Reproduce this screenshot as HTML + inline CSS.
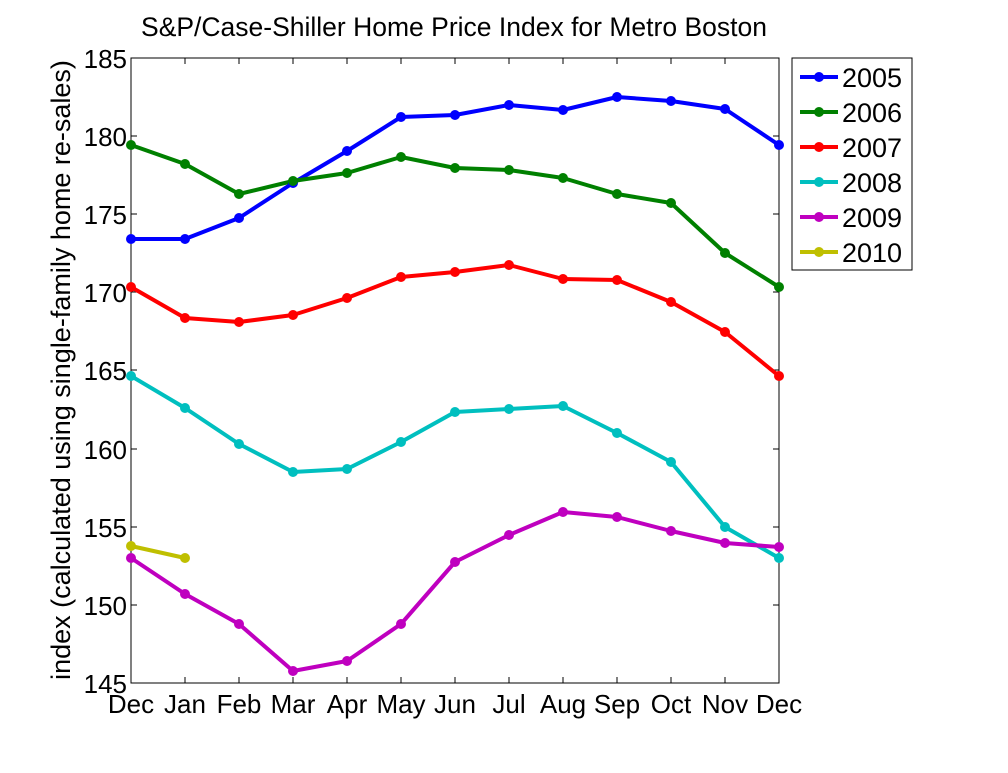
<!DOCTYPE html>
<html><head><meta charset="utf-8"><style>
html,body{margin:0;padding:0;background:#fff;}
svg text{font-family:"Liberation Sans",Arial,sans-serif;fill:#000;}
</style></head><body>
<svg width="1008" height="768" xmlns="http://www.w3.org/2000/svg">
<rect width="1008" height="768" fill="#fff"/>
<text x="454" y="36" font-size="26.5" text-anchor="middle">S&amp;P/Case-Shiller Home Price Index for Metro Boston</text>
<rect x="131" y="58" width="648" height="625" fill="#fff" stroke="#000" stroke-width="1"/>
<g stroke="#000" stroke-width="1">
<line x1="131" y1="136" x2="137" y2="136"/><line x1="779" y1="136" x2="773" y2="136"/>
<line x1="131" y1="214" x2="137" y2="214"/><line x1="779" y1="214" x2="773" y2="214"/>
<line x1="131" y1="292" x2="137" y2="292"/><line x1="779" y1="292" x2="773" y2="292"/>
<line x1="131" y1="370" x2="137" y2="370"/><line x1="779" y1="370" x2="773" y2="370"/>
<line x1="131" y1="449" x2="137" y2="449"/><line x1="779" y1="449" x2="773" y2="449"/>
<line x1="131" y1="527" x2="137" y2="527"/><line x1="779" y1="527" x2="773" y2="527"/>
<line x1="131" y1="605" x2="137" y2="605"/><line x1="779" y1="605" x2="773" y2="605"/>
<line x1="185" y1="683" x2="185" y2="677"/><line x1="239" y1="683" x2="239" y2="677"/><line x1="293" y1="683" x2="293" y2="677"/><line x1="347" y1="683" x2="347" y2="677"/><line x1="401" y1="683" x2="401" y2="677"/><line x1="455" y1="683" x2="455" y2="677"/><line x1="509" y1="683" x2="509" y2="677"/><line x1="563" y1="683" x2="563" y2="677"/><line x1="617" y1="683" x2="617" y2="677"/><line x1="671" y1="683" x2="671" y2="677"/><line x1="725" y1="683" x2="725" y2="677"/>
<line x1="185" y1="58" x2="185" y2="64"/><line x1="239" y1="58" x2="239" y2="64"/><line x1="293" y1="58" x2="293" y2="64"/><line x1="347" y1="58" x2="347" y2="64"/><line x1="401" y1="58" x2="401" y2="64"/><line x1="455" y1="58" x2="455" y2="64"/><line x1="509" y1="58" x2="509" y2="64"/><line x1="563" y1="58" x2="563" y2="64"/><line x1="617" y1="58" x2="617" y2="64"/><line x1="671" y1="58" x2="671" y2="64"/><line x1="725" y1="58" x2="725" y2="64"/>
</g>
<g font-size="26" text-anchor="end">
<text x="127" y="68">185</text><text x="127" y="146">180</text><text x="127" y="224">175</text><text x="127" y="302">170</text><text x="127" y="380">165</text><text x="127" y="459">160</text><text x="127" y="537">155</text><text x="127" y="615">150</text><text x="127" y="693">145</text>
</g>
<g font-size="26" text-anchor="middle">
<text x="131" y="713">Dec</text><text x="185" y="713">Jan</text><text x="239" y="713">Feb</text><text x="293" y="713">Mar</text><text x="347" y="713">Apr</text><text x="401" y="713">May</text><text x="455" y="713">Jun</text><text x="509" y="713">Jul</text><text x="563" y="713">Aug</text><text x="617" y="713">Sep</text><text x="671" y="713">Oct</text><text x="725" y="713">Nov</text><text x="779" y="713">Dec</text>
</g>
<text transform="translate(70,370) rotate(-90)" font-size="27" text-anchor="middle">index (calculated using single-family home re-sales)</text>
<g fill="none" stroke-width="4" stroke-linejoin="round">
<polyline stroke="#0000ff" points="131,239 185,239 239,218 293,183 347,151 401,117 455,115 509,105 563,110 617,97 671,101 725,109 779,145"/>
<polyline stroke="#008000" points="131,145 185,164 239,194 293,181 347,173 401,157 455,168 509,170 563,178 617,194 671,203 725,253 779,287"/>
<polyline stroke="#ff0000" points="131,287 185,318 239,322 293,315 347,298 401,277 455,272 509,265 563,279 617,280 671,302 725,332 779,376"/>
<polyline stroke="#00bfbf" points="131,376 185,408 239,444 293,472 347,469 401,442 455,412 509,409 563,406 617,433 671,462 725,527 779,558"/>
<polyline stroke="#bf00bf" points="131,558 185,594 239,624 293,671 347,661 401,624 455,562 509,535 563,512 617,517 671,531 725,543 779,547"/>
<polyline stroke="#bfbf00" points="131,546 185,558"/>
</g>
<g>
<g fill="#0000ff"><circle cx="131" cy="239" r="5"/><circle cx="185" cy="239" r="5"/><circle cx="239" cy="218" r="5"/><circle cx="293" cy="183" r="5"/><circle cx="347" cy="151" r="5"/><circle cx="401" cy="117" r="5"/><circle cx="455" cy="115" r="5"/><circle cx="509" cy="105" r="5"/><circle cx="563" cy="110" r="5"/><circle cx="617" cy="97" r="5"/><circle cx="671" cy="101" r="5"/><circle cx="725" cy="109" r="5"/><circle cx="779" cy="145" r="5"/></g>
<g fill="#008000"><circle cx="131" cy="145" r="5"/><circle cx="185" cy="164" r="5"/><circle cx="239" cy="194" r="5"/><circle cx="293" cy="181" r="5"/><circle cx="347" cy="173" r="5"/><circle cx="401" cy="157" r="5"/><circle cx="455" cy="168" r="5"/><circle cx="509" cy="170" r="5"/><circle cx="563" cy="178" r="5"/><circle cx="617" cy="194" r="5"/><circle cx="671" cy="203" r="5"/><circle cx="725" cy="253" r="5"/><circle cx="779" cy="287" r="5"/></g>
<g fill="#ff0000"><circle cx="131" cy="287" r="5"/><circle cx="185" cy="318" r="5"/><circle cx="239" cy="322" r="5"/><circle cx="293" cy="315" r="5"/><circle cx="347" cy="298" r="5"/><circle cx="401" cy="277" r="5"/><circle cx="455" cy="272" r="5"/><circle cx="509" cy="265" r="5"/><circle cx="563" cy="279" r="5"/><circle cx="617" cy="280" r="5"/><circle cx="671" cy="302" r="5"/><circle cx="725" cy="332" r="5"/><circle cx="779" cy="376" r="5"/></g>
<g fill="#00bfbf"><circle cx="131" cy="376" r="5"/><circle cx="185" cy="408" r="5"/><circle cx="239" cy="444" r="5"/><circle cx="293" cy="472" r="5"/><circle cx="347" cy="469" r="5"/><circle cx="401" cy="442" r="5"/><circle cx="455" cy="412" r="5"/><circle cx="509" cy="409" r="5"/><circle cx="563" cy="406" r="5"/><circle cx="617" cy="433" r="5"/><circle cx="671" cy="462" r="5"/><circle cx="725" cy="527" r="5"/><circle cx="779" cy="558" r="5"/></g>
<g fill="#bf00bf"><circle cx="131" cy="558" r="5"/><circle cx="185" cy="594" r="5"/><circle cx="239" cy="624" r="5"/><circle cx="293" cy="671" r="5"/><circle cx="347" cy="661" r="5"/><circle cx="401" cy="624" r="5"/><circle cx="455" cy="562" r="5"/><circle cx="509" cy="535" r="5"/><circle cx="563" cy="512" r="5"/><circle cx="617" cy="517" r="5"/><circle cx="671" cy="531" r="5"/><circle cx="725" cy="543" r="5"/><circle cx="779" cy="547" r="5"/></g>
<g fill="#bfbf00"><circle cx="131" cy="546" r="5"/><circle cx="185" cy="558" r="5"/></g>
</g>
<rect x="792" y="58" width="120" height="212" fill="#fff" stroke="#000" stroke-width="1"/>
<g stroke-width="4">
<line x1="800" y1="77" x2="838" y2="77" stroke="#0000ff"/><circle cx="819" cy="77" r="5" fill="#0000ff"/>
<line x1="800" y1="112" x2="838" y2="112" stroke="#008000"/><circle cx="819" cy="112" r="5" fill="#008000"/>
<line x1="800" y1="147" x2="838" y2="147" stroke="#ff0000"/><circle cx="819" cy="147" r="5" fill="#ff0000"/>
<line x1="800" y1="182" x2="838" y2="182" stroke="#00bfbf"/><circle cx="819" cy="182" r="5" fill="#00bfbf"/>
<line x1="800" y1="217" x2="838" y2="217" stroke="#bf00bf"/><circle cx="819" cy="217" r="5" fill="#bf00bf"/>
<line x1="800" y1="252" x2="838" y2="252" stroke="#bfbf00"/><circle cx="819" cy="252" r="5" fill="#bfbf00"/>
</g>
<g font-size="27">
<text x="842" y="87">2005</text><text x="842" y="122">2006</text><text x="842" y="157">2007</text><text x="842" y="192">2008</text><text x="842" y="227">2009</text><text x="842" y="262">2010</text>
</g>
</svg>
</body></html>
